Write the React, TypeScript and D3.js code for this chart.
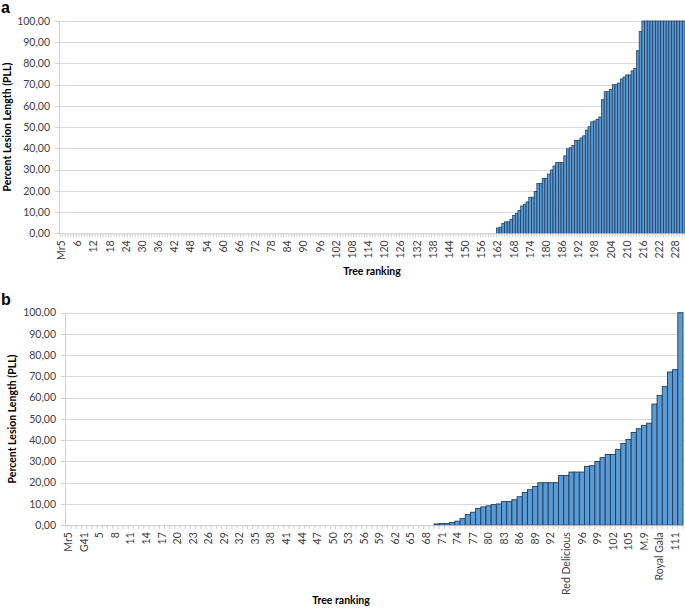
import React, { useEffect, useRef } from 'react';
import * as d3 from 'd3';

// panel a: 162 trees with no lesion, then the ranked ones
const aZeroCount = 162;
const aValues = [
  2.5, 2.9, 4.6, 5.4, 5.4, 6.5, 8.4, 9.4, 10.8, 12.9,
  13.7, 14.8, 17, 17, 19.7, 23.5, 23.5, 25.9, 26, 27.9,
  29.8, 31.7, 33.3, 33.3, 33.3, 36.5, 39.8, 40.3, 41.4, 43.8,
  43.8, 44.9, 45.9, 48.6, 50.2, 52.5, 52.9, 53.7, 54.8, 62.9,
  66.7, 66.7, 67.8, 70, 70, 70.8, 72.7, 73.6, 74.6, 74.6,
  76.5, 77.6, 86, 95, 100, 100, 100, 100, 100, 100,
  100, 100, 100, 100, 100, 100, 100, 100, 100, 100,
];
const aTickLabels = [
  'Mr5', '6', '12', '18', '24', '30', '36', '42', '48', '54', '60', '66', '72',
  '78', '84', '90', '96', '102', '108', '114', '120', '126', '132', '138', '144',
  '150', '156', '162', '168', '174', '180', '186', '192', '198', '204', '210',
  '216', '222', '228',
];

// panel b
const bZeroCount = 71;
const bValues = [
  0.6, 0.8, 0.8, 1.3, 1.9, 3.1, 5, 6.1, 7.9, 8.6,
  9.1, 9.7, 10, 11.2, 11.2, 12, 13.4, 15.4, 16.7, 18.2,
  20, 20, 20, 20, 23.4, 23.4, 25, 25, 25, 27.7,
  28, 30, 31.8, 33.3, 33.3, 35.7, 38.5, 40.4, 43.6, 45.4,
  47, 48, 57, 61.1, 65.2, 72.1, 73.2, 100,
];
const bTickLabels = [
  'Mr5', 'G41', '5', '8', '11', '14', '17', '20', '23', '26', '29', '32', '35',
  '38', '41', '44', '47', '50', '53', '56', '59', '62', '65', '68', '71', '74',
  '77', '80', '83', '86', '89', '92', 'Red Delicious', '96', '99', '102', '105',
  'M.9', 'Royal Gala', '111',
];

const yTicks = [0, 10, 20, 30, 40, 50, 60, 70, 80, 90, 100];

const FONT = 'Lato, "Open Sans", sans-serif';

function drawPanel(svg, p) {
  const values = new Array(p.zeroCount).fill(0).concat(p.values);
  const n = values.length;

  const x = d3.scaleBand()
    .domain(d3.range(n))
    .range([p.left, p.right])
    .paddingInner(0)
    .paddingOuter(0);
  const y = d3.scaleLinear().domain([0, 100]).range([p.bottom, p.top]);
  const bw = x.bandwidth();

  const g = svg.append('g');

  // gridlines
  g.selectAll('line.grid')
    .data(yTicks.filter(d => d > 0))
    .join('line')
    .attr('x1', p.left)
    .attr('x2', p.right + 2)
    .attr('y1', d => Math.round(y(d)) + 0.5)
    .attr('y2', d => Math.round(y(d)) + 0.5)
    .attr('stroke', '#d9d9d9')
    .attr('stroke-width', 1);

  // y axis line + ticks
  g.append('line')
    .attr('x1', p.left - 0.5).attr('x2', p.left - 0.5)
    .attr('y1', p.top).attr('y2', p.bottom)
    .attr('stroke', '#d0d0d0');
  g.selectAll('line.ytick')
    .data(yTicks)
    .join('line')
    .attr('x1', p.left - 5).attr('x2', p.left)
    .attr('y1', d => Math.round(y(d)) + 0.5)
    .attr('y2', d => Math.round(y(d)) + 0.5)
    .attr('stroke', '#d0d0d0');

  g.selectAll('text.ylab')
    .data(yTicks)
    .join('text')
    .attr('x', p.left - 10)
    .attr('y', d => y(d))
    .attr('dy', '0.35em')
    .attr('text-anchor', 'end')
    .attr('font-family', FONT)
    .attr('font-size', 10.5)
    .attr('fill', '#404040')
    .text(d => d3.format('.2f')(d).replace('.', ','));

  // bars
  g.selectAll('rect.bar')
    .data(values.map((v, i) => ({ v, i })).filter(d => d.v > 0))
    .join('rect')
    .attr('x', d => x(d.i))
    .attr('y', d => y(d.v))
    .attr('width', bw)
    .attr('height', d => p.bottom - y(d.v))
    .attr('fill', '#5b9bd5')
    .attr('stroke', '#1f3b5c')
    .attr('stroke-width', p.strokeWidth);

  // x axis baseline + category ticks
  g.append('line')
    .attr('x1', p.left).attr('x2', p.right)
    .attr('y1', p.bottom + 0.5).attr('y2', p.bottom + 0.5)
    .attr('stroke', '#c8c8c8');
  g.selectAll('line.xtick')
    .data(d3.range(n + 1))
    .join('line')
    .attr('x1', i => p.left + i * bw)
    .attr('x2', i => p.left + i * bw)
    .attr('y1', p.bottom)
    .attr('y2', p.bottom + 4)
    .attr('stroke', '#c8c8c8')
    .attr('stroke-width', 0.8);

  g.selectAll('text.xlab')
    .data(p.tickLabels)
    .join('text')
    .attr('transform', (d, k) => {
      const cx = x(k * p.tickStep) + bw / 2;
      return `translate(${cx},${p.bottom + 7}) rotate(-90)`;
    })
    .attr('dy', '0.35em')
    .attr('text-anchor', 'end')
    .attr('font-family', FONT)
    .attr('font-size', 10.5)
    .attr('fill', '#404040')
    .text(d => d);

  // titles
  g.append('text')
    .attr('transform', `translate(${p.yTitleX},${(p.top + p.bottom) / 2}) rotate(-90)`)
    .attr('text-anchor', 'middle')
    .attr('font-family', FONT)
    .attr('font-weight', 'bold')
    .attr('font-size', 10.5)
    .attr('fill', '#000')
    .text('Percent Lesion Length (PLL)');

  g.append('text')
    .attr('x', p.xTitleX)
    .attr('y', p.xTitleY)
    .attr('text-anchor', 'middle')
    .attr('font-family', FONT)
    .attr('font-weight', 'bold')
    .attr('font-size', 10.5)
    .attr('fill', '#000')
    .text('Tree ranking');

  g.append('text')
    .attr('x', 1)
    .attr('y', p.letterY)
    .attr('font-family', 'Arial, "Liberation Sans", sans-serif')
    .attr('font-weight', 'bold')
    .attr('font-size', 16)
    .attr('fill', '#000')
    .text(p.letter);
}

export default function App() {
  const svgRef = useRef(null);

  useEffect(() => {
    const svg = d3.select(svgRef.current);
    svg.selectAll('*').remove();

    drawPanel(svg, {
      letter: 'a', letterY: 13,
      left: 60, right: 685, top: 21, bottom: 233.3,
      zeroCount: aZeroCount, values: aValues,
      tickLabels: aTickLabels, tickStep: 6,
      strokeWidth: 0.75,
      yTitleX: 11, xTitleX: 372, xTitleY: 275,
    });

    drawPanel(svg, {
      letter: 'b', letterY: 305,
      left: 66, right: 683, top: 312.7, bottom: 525.2,
      zeroCount: bZeroCount, values: bValues,
      tickLabels: bTickLabels, tickStep: 3,
      strokeWidth: 0.9,
      yTitleX: 16, xTitleX: 341, xTitleY: 604,
    });
  }, []);

  return (
    <div style={{ position: 'absolute', left: 0, top: 0 }}>
      <svg ref={svgRef} width={685} height={609} style={{ display: 'block', background: '#fff' }} />
    </div>
  );
}
